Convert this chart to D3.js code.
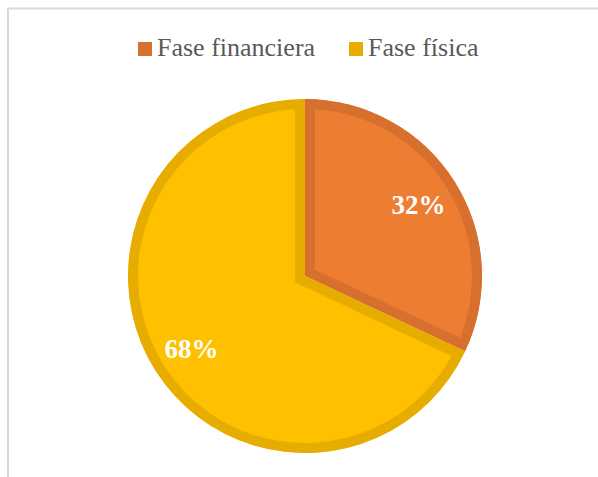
<!DOCTYPE html>
<html><head><meta charset="utf-8">
<script src="https://cdn.jsdelivr.net/npm/d3@7"></script>
<style>html,body{margin:0;padding:0;background:#fff;}svg{display:block;}</style>
</head><body>
<svg id="c" width="598" height="477"></svg>
<script>
const categories = ["Fase financiera", "Fase física"];
const values = [32, 68];
const labels = ["32%", "68%"];
const fillColors = ["#ED7D31", "#FFC000"];
const borderColors = ["#D76F2E", "#E6AD00"];

const svg = d3.select("#c");
// frame
svg.append("line").attr("x1",8).attr("y1",8.5).attr("x2",598).attr("y2",8.5).attr("stroke","#d9d9d9").attr("stroke-width",2);
svg.append("line").attr("x1",8).attr("y1",8).attr("x2",8).attr("y2",477).attr("stroke","#d9d9d9").attr("stroke-width",2);

const cx = 305, cy = 276, r = 177;
const pie = d3.pie().sort(null).value(d => d)(values);
const arc = d3.arc().innerRadius(0).outerRadius(r);
const g = svg.append("g").attr("transform", `translate(${cx},${cy})`);
const defs = svg.append("defs");
pie.forEach((p, i) => {
  defs.append("clipPath").attr("id", "clip" + i).append("path").attr("d", arc(p));
});
g.selectAll("path.slice").data(pie).join("path")
  .attr("class","slice")
  .attr("d", arc)
  .attr("fill", (d,i) => fillColors[i])
  .attr("stroke", (d,i) => borderColors[i])
  .attr("stroke-width", 20)
  .attr("stroke-linejoin","miter")
  .attr("clip-path", (d,i) => `url(#clip${i})`);

const labelArc = d3.arc().innerRadius(r*0.76).outerRadius(r*0.76);
g.selectAll("text.lbl").data(pie).join("text")
  .attr("class","lbl")
  .attr("x", (d) => labelArc.centroid(d)[0])
  .attr("y", (d) => labelArc.centroid(d)[1])
  .attr("text-anchor","middle")
  .attr("dy","0.36em")
  .attr("font-family","'Liberation Serif', 'Times New Roman', serif")
  .attr("font-weight","bold")
  .attr("font-size",27)
  .attr("fill","#fff")
  .text((d,i) => labels[i]);

// legend
const legendX = [138, 349];
const lg = svg.append("g");
categories.forEach((c, i) => {
  lg.append("rect").attr("x", legendX[i]).attr("y", 42).attr("width", 14).attr("height", 14).attr("fill", borderColors[i]);
  lg.append("text").attr("x", legendX[i] + 19).attr("y", 56)
    .attr("font-family","'Liberation Serif', 'Times New Roman', serif")
    .attr("font-size",26).attr("fill","#595959").text(c);
});
</script>
</body></html>
